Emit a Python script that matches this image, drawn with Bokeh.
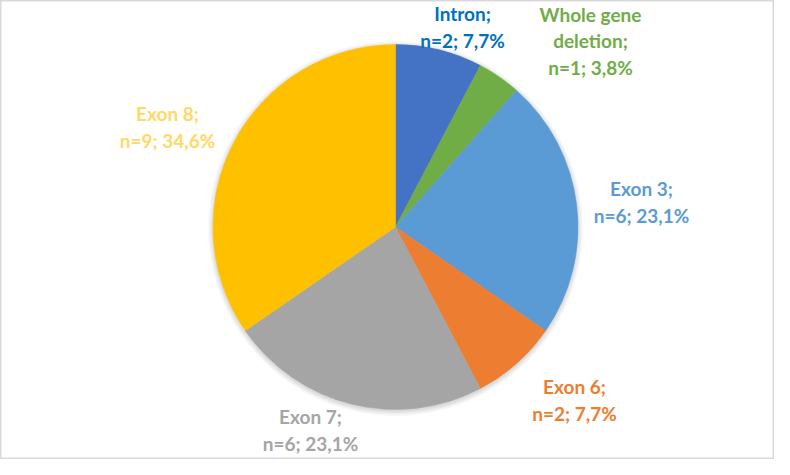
import numpy as np
from bokeh.plotting import figure
from bokeh.models import Range1d, ColumnDataSource
from bokeh.core.properties import value
from bokeh.embed import file_html
from bokeh.resources import INLINE

# ---- data ----
categories = ["Intron", "Whole gene deletion", "Exon 3", "Exon 6", "Exon 7", "Exon 8"]
counts = [2, 1, 6, 2, 6, 9]
percent_labels = ["7,7%", "3,8%", "23,1%", "7,7%", "23,1%", "34,6%"]

# ---- styles / layout ----
slice_colors = ["#4472C4", "#70AD47", "#5B9BD5", "#ED7D31", "#A5A5A5", "#FFC000"]
label_colors = ["#0070C0", "#70AD47", "#5B9BD5", "#ED7D31", "#A5A5A5", "#FFD966"]
label_names = ["Intron;", "Whole gene\ndeletion;", "Exon 3;", "Exon 6;", "Exon 7;", "Exon 8;"]
# label block centre offsets from the pie centre, screen pixels (dx, dy down)
label_off = [(67, -200), (195, -186), (246, -25), (179, 173), (-85, 203), (-228, -100)]

W, H = 774, 459
SHIFT = 10              # vertical offset of the drawing inside the figure
PAGE_H = 475
cx, cy_screen, R = 395, 236.5, 182.5
cy = PAGE_H - cy_screen

p = figure(width=W, height=H, output_backend="svg", toolbar_location=None,
           x_range=Range1d(0, W),
           y_range=Range1d(PAGE_H - SHIFT - H, PAGE_H - SHIFT),
           min_border=0, background_fill_color="white", border_fill_color="white")
p.axis.visible = False
p.grid.visible = False
p.outline_line_color = "#D9D9D9"
p.outline_line_width = 2

# soft shadow
for k in range(6):
    p.circle(x=cx, y=cy - 1.5, radius=R + 5 - k * 0.9, fill_color="black",
             fill_alpha=0.025, line_color=None)

total = float(sum(counts))
frac = np.array(counts) / total
cum = np.concatenate([[0], np.cumsum(frac)])
start = np.pi / 2 - cum[:-1] * 2 * np.pi
end = np.pi / 2 - cum[1:] * 2 * np.pi

src = ColumnDataSource(dict(start=start, end=end, color=slice_colors))
p.wedge(x=cx, y=cy, radius=R, start_angle="start", end_angle="end",
        direction="clock", fill_color="color", line_color="color", line_width=0.5,
        source=src)

texts = [f"{n}\nn={c}; {pl}" for n, c, pl in zip(label_names, counts, percent_labels)]
lx = [cx + dx for dx, dy in label_off]
ly = [cy - dy for dx, dy in label_off]
lsrc = ColumnDataSource(dict(x=lx, y=ly, text=texts, color=label_colors))
p.text(x="x", y="y", text="text", text_color="color", source=lsrc,
       text_font=value("Lato"), text_font_style="bold", text_font_size="19px",
       text_align="center", text_baseline="middle", text_line_height=1.16)

open("out.html", "w").write(file_html(p, INLINE))
